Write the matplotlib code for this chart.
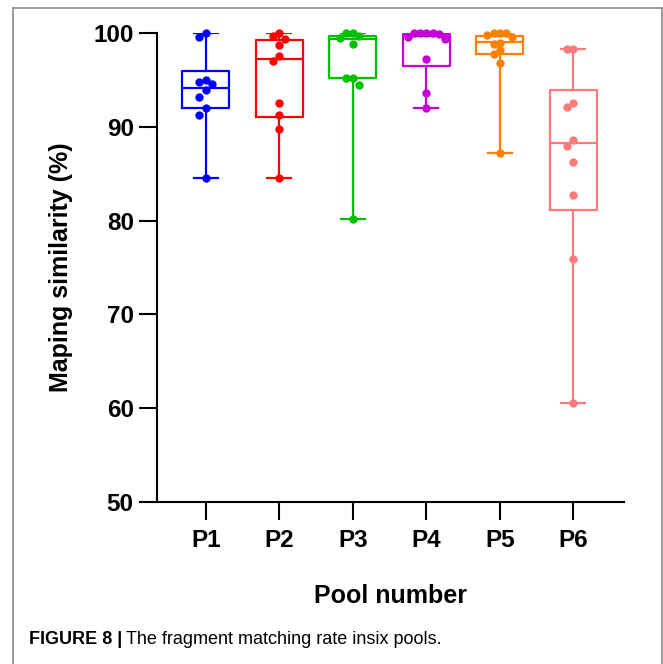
import matplotlib
matplotlib.use("Agg")
import matplotlib.pyplot as plt
from matplotlib.lines import Line2D
import numpy as np

plt.rcParams['font.family'] = ['Liberation Sans', 'DejaVu Sans']

# pools and the colour Prism used for each
pools = ["P1", "P2", "P3", "P4", "P5", "P6"]
colours = ["#0000ff", "#ff0000", "#00c000", "#c800d8", "#ff8000", "#ff7a7a"]

# box statistics (min, q1, median, q3, max)
whisk_lo = [84.6, 84.6, 80.2, 92.0, 87.2, 60.5]
q1 = [92.0, 91.1, 95.2, 96.5, 97.8, 81.1]
med = [94.2, 97.3, 99.4, 99.7, 99.1, 88.3]
q3 = [96.0, 99.3, 99.7, 99.9, 99.7, 93.9]
whisk_hi = [100.0, 100.0, 100.0, 100.0, 100.0, 98.3]

# individual samples per pool
p1 = [100, 99.6, 95.0, 94.8, 94.6, 93.9, 93.2, 92.0, 91.3, 84.6]
p2 = [100, 99.7, 99.4, 98.8, 97.6, 97.0, 92.6, 91.3, 89.8, 84.6]
p3 = [100, 100, 99.7, 99.5, 98.9, 95.2, 95.2, 94.5, 80.2]
p4 = [100, 100, 100, 100, 99.9, 99.6, 99.4, 97.3, 93.6, 92.0]
p5 = [100, 100, 100, 99.8, 99.6, 99.0, 98.9, 98.2, 97.8, 96.8, 87.2]
p6 = [98.3, 98.3, 92.6, 92.1, 88.6, 88.0, 86.3, 82.7, 75.9, 60.5]
samples = [p1, p2, p3, p4, p5, p6]


def swarm(vals, step=0.085, gap=0.75):
    # simple beeswarm: push a point sideways if it sits on top of another one
    placed = []
    offs = []
    for v in vals:
        for o in [0, -step, step, -2 * step, 2 * step, -3 * step, 3 * step]:
            if all(abs(v - pv) > gap or abs(o - po) > step * 0.9 for pv, po in placed):
                break
        placed.append((v, o))
        offs.append(o)
    return np.array(offs)


fig = plt.figure(figsize=(6.63, 6.64), dpi=100)
ax = fig.add_axes([0.2363, 0.2444, 0.7049, 0.7054])

stats = []
for i in range(len(pools)):
    stats.append(dict(whislo=whisk_lo[i], q1=q1[i], med=med[i], q3=q3[i], whishi=whisk_hi[i], fliers=[]))

for i, st in enumerate(stats):
    c = colours[i]
    ax.bxp([st], positions=[i], widths=0.64, capwidths=0.33, showfliers=False,
           boxprops=dict(color=c, linewidth=1.6),
           medianprops=dict(color=c, linewidth=1.6),
           whiskerprops=dict(color=c, linewidth=1.6),
           capprops=dict(color=c, linewidth=1.6))
    ys = np.array(samples[i], dtype=float)
    xs = i + swarm(ys)
    ax.plot(xs, ys, 'o', color=c, markersize=6, zorder=5, markeredgewidth=0, clip_on=False)

ax.set_xlim(-0.667, 5.69)
ax.set_ylim(50, 100)
ax.set_yticks([50, 60, 70, 80, 90, 100])
ax.set_xticks(range(len(pools)))
ax.set_xticklabels(pools)

for s in ['top', 'right']:
    ax.spines[s].set_visible(False)
for s in ['left', 'bottom']:
    ax.spines[s].set_linewidth(1.5)

ax.tick_params(axis='both', length=13, width=1.5, labelsize=17.5)
ax.tick_params(axis='y', pad=3.5)
ax.tick_params(axis='x', pad=7)
for lab in ax.get_xticklabels() + ax.get_yticklabels():
    lab.set_fontweight('bold')

ax.set_ylabel("Maping similarity (%)", fontsize=18, fontweight='bold')
ax.yaxis.set_label_coords(-0.179, 0.5)
ax.set_xlabel("Pool number", fontsize=18, fontweight='bold')
ax.xaxis.set_label_coords(0.5, -0.176)

# grey page frame around the figure
fw, fh = 663, 664
frame_col = "#9a9a9a"
fig.add_artist(Line2D([13 / fw, 13 / fw], [0, 1 - 8 / fh], color=frame_col, lw=1.4))
fig.add_artist(Line2D([13 / fw, 662 / fw], [1 - 8 / fh, 1 - 8 / fh], color=frame_col, lw=1.4))
fig.add_artist(Line2D([662 / fw, 662 / fw], [0, 1 - 8 / fh], color=frame_col, lw=1.4))

# caption: bold figure number, then plain text
t1 = fig.text(29 / fw, 1 - 640 / fh, "FIGURE 8 |", fontsize=13, fontweight='bold',
              va='center', ha='left')
fig.canvas.draw()
bb = t1.get_window_extent()
fig.text(bb.x1 / fw + 4 / fw, 1 - 640 / fh, "The fragment matching rate insix pools.",
         fontsize=13, va='center', ha='left')

fig.savefig("out.png", dpi=100)
